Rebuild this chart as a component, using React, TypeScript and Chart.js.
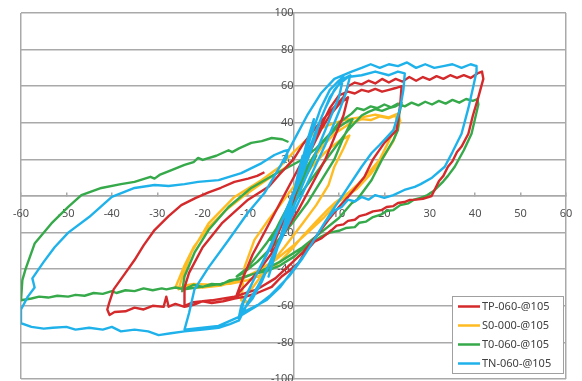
import React, { useEffect, useRef } from 'react';
import { Chart, registerables } from 'chart.js';

Chart.register(...registerables);

const seriesLabels = ['TP-060-@105', 'S0-000-@105', 'T0-060-@105', 'TN-060-@105'];
const seriesColors = ['#d42a2c', '#ffbb22', '#36a94a', '#1fb2ea'];
const seriesOrder = [1, 3, 2, 0];

const xMin = -60, xMax = 60, xStep = 10;
const yMin = -100, yMax = 100, yStep = 20;

const tpPath: [number, number][] = [
  [0,0],[1.5,12],[3,22],[4.5,30],[3,20],[0,2],[-2,-12],[-4,-24],[-5,-30],[-3,-18],[0,-2],
  [2,14],[4,26],[6,36],[8,44],[10,50],[12,54],[11,44],[9,32],[7,20],[4,6],[1,-8],[-2,-20],[-5,-32],[-8,-42],[-11,-50],[-12.5,-54],
  [-11,-44],[-9,-32],[-6,-18],[-3,-4],[0,10],[3,24],[6,38],[8,48],[10,55],[12,57],[13.5,56],[15,58],[16.5,57],[18,58.5],[19.5,57],[21,58],[22.5,59],[23.8,60],
  [23.5,50],[22.7,36],[20,29],[17.5,20],[15.6,10.4],[12,-0.5],[10,-6],[7.7,-13],[5,-22],[2,-31],[-1,-38],[-4,-45],[-8,-51],[-13,-55],[-18,-57],[-22,-58],[-24,-60],
  [-24,-50],[-23,-42],[-20,-28],[-15.8,-15],[-10,-2],[-5.5,5],[-3,12],[0,20],[2,28],[5,37.7],[8,46],[11,54],[12,60],[13.5,62],[15,61],[16.5,63],[18,61.5],[19.5,64],[21,62],[22.5,64],[24,62.5],[25.5,65],[27,63],[28.5,65],[30,63.5],[31.5,65.5],[33,64],[34.5,66],[36,64.5],[37.5,66],[39,64.5],[40.5,67],[41.5,68],
  [41.8,64],[40.7,54],[39.5,44],[38.5,34],[37,27],[36,24],[35,19],[34,16],[33,11],[32,8],[31,3],[30.4,0],[28.5,-1.5],[27,-2],[25.5,-2.2],[24.4,-3.3],[23,-3.8],[22,-5.5],[20.5,-6],[19.4,-7.7],[17.5,-8.4],[16,-10],[14.5,-11],[13.5,-13],[12,-13.6],[11,-15.5],[9.5,-16.2],[8.4,-18.6],[6.2,-23],[4.6,-25],[2.5,-31],[1.1,-36.6],[-1,-41],[-2.6,-44],[-4.8,-49.7],[-8,-53],[-10.5,-55],[-13,-56],[-15.5,-57.5],[-18,-58.5],[-20,-57.5],[-22,-59.5],[-24,-60.6],[-26,-59],[-27.5,-60.5],[-28,-55],[-28.6,-60.6],[-31,-60],[-33,-62],[-35,-61],[-37,-63],[-39.4,-63.4],[-40.5,-65],[-41,-62],[-40.6,-58.5],[-40,-54],
  [-39.6,-51],[-37,-42],[-35,-35],[-33,-27],[-30.6,-18.6],[-27.5,-11],[-24.7,-5],[-21.5,-1],[-18.7,2],[-16,4.5],[-13,7.7],[-10,9.5],[-8,11],[-6.4,13]
];

const s0Path: [number, number][] = [
  [0,0],[2,10],[4,20],[5,24],[3,14],[0,0],[-2,-12],[-4,-22],[-5,-28],[-3,-18],[0,-2],[2,8],
  [4,16],[7,24],[10,30],[12.3,33],[11,26],[9,16],[7.7,6],[5,-5],[2,-15],[-2,-28],[-6,-40],[-9,-50],[-11,-56],[-10,-58.5],[-11.5,-57],
  [-10.8,-39],[-8.6,-24],[-5.5,-13],[-3,-5],[0,5],[3,16],[6,26],[9,34],[12,39],[15,42],[17,41.5],[19,43.5],[21,42.5],[22.5,44],[22.8,40],
  [21,30],[19,20],[17,14],[14,6],[12,1.6],[9,-4],[7.7,-7],[5,-14],[2,-22],[0,-28],[-3,-36],[-6,-42],[-10,-46],[-14,-48],[-18,-48.5],[-22,-48],[-24,-49],[-25.3,-51],
  [-24.7,-46],[-22.5,-31],[-18.7,-15],[-13,-0.5],[-7,8.7],[-3,16],[0,24],[3,31],[6,37],[9,40],[12,42],[15,43],[18,44.5],[21,43],[23,45],[23.5,41],
  [22,30],[20,22],[17,12],[14,4],[10,-3],[6.8,-11.5],[4,-18],[0,-27],[-4,-35],[-8,-41],[-12,-46],[-16,-49],[-20,-50],[-24,-50],[-26,-50],[-25.5,-47],
  [-24,-38],[-22,-28],[-19,-18],[-15,-8],[-11,0],[-7,7],[-4,12],[-1.5,16],[-0.5,19]
];

const t0Path: [number, number][] = [
  [0,0],[2,10],[4,19],[5,22],[3,12],[0,-2],[-3,-16],[-5,-24],[-3,-14],[0,0],
  [3,16],[6,28],[9,36],[12,41],[13,42],[11,32],[9,20],[6,8],[3,-4],[0,-14],[-4,-26],[-8,-36],[-11,-42],[-12.5,-44],
  [-10,-39],[-6,-26],[-3,-15],[0,-4],[3,6],[6,16],[9,26],[12,36],[15,44],[16.5,46],[18,47.5],[19.5,46.5],[21,48],[22.5,49],[23.8,51],
  [23.3,45],[23,36],[22,30.6],[19.5,20],[17.2,8.7],[14,-2],[12.8,-4],[10,-12],[6,-20],[2,-28],[-3,-36],[-8,-42],[-12,-45],[-16,-48],[-20,-49.5],[-24,-51],[-24.5,-52],
  [-24,-44],[-21.8,-31],[-18.7,-18.6],[-14.3,-6],[-9.3,4.4],[-4,12],[1.8,19.7],[5,26],[8,34],[10,40],[12.8,45],[14,48],[15.5,47],[17,49],[18.5,48],[20,50],[21.5,48.5],[23,50.5],[24.5,49],[26,51],[27.5,49.5],[29,51.5],[30.5,50],[32,52],[33.5,50.5],[35,52.5],[36.5,51],[38,53],[39.5,52],[40.5,53],
  [40.7,50],[39.2,34],[37.5,25],[35.5,16],[34,11],[33,8],[32,5.5],[31,3],[29.5,0.5],[28,-1],[26.5,-2],[25.3,-4],[23.5,-5],[22,-7.7],[20.5,-8.2],[19.4,-10],[17.5,-11.5],[16,-14],[14.5,-14.6],[13.5,-17],[11.5,-17.5],[10,-19],[8,-20],[6.2,-22],[3,-27],[0.2,-33],[-3,-38],[-6,-41],[-9.3,-43],[-12,-45.5],[-14,-46],[-16,-48.5],[-18,-48],[-20,-49.7],[-22,-48.5],[-24,-51],[-26,-50],[-28,-51],[-29,-50.5],[-31,-51.5],[-33,-50.5],[-35,-52],[-37,-51.5],[-39,-53],[-40,-52],[-42,-53.5],[-44,-53],[-46,-54.5],[-48,-54],[-49.6,-55],[-52,-54.5],[-54,-55.5],[-56,-55],[-57.7,-56],[-60,-57],
  [-59.7,-46],[-59,-40],[-57,-26],[-53.3,-15],[-49.6,-6],[-46.7,0.5],[-42.3,4.4],[-38,6.5],[-35,7.7],[-31.5,10.5],[-30.6,9.5],[-29.5,11.5],[-27,14],[-24,17],[-22,18.5],[-21,20.8],[-20,19.7],[-17,22],[-14.3,25],[-13.5,24],[-12,26],[-9.3,29],[-7,30],[-4.8,31.7],[-2.5,31],[-1.1,29.5]
];

const tnPath: [number, number][] = [
  [0,0],[1,12],[2,22],[1,12],[0,1],[-1,-10],[-2,-20],[-1,-9],[0,1],
  [1.5,15],[3,30],[4.5,42],[3.5,32],[1.5,14],[0,0],[-2,-16],[-4,-32],[-5.5,-44],[-4,-32],[-2,-15],[0,2],
  [2,18],[4,34],[6,48],[8,58],[10,63],[11,65],[10,54],[8,42],[5,24],[2,6],[0,-6],[-2,-18],[-5,-35],[-7,-47],[-9,-56],[-11,-62],[-12,-66],
  [-11.5,-60],[-10,-52],[-8,-42],[-5,-28],[-3,-16],[-1,-4],[1,8],[3,22],[5,36],[7,48],[9,58],[11,64],[12.5,66],
  [11.5,56],[10,46],[7,28],[4,12],[1,-4],[-2,-20],[-5,-36],[-8,-50],[-10,-58],[-12,-68],
  [-11,-58],[-9,-47],[-6,-32],[-3,-16],[0,0],[2,12],[4,26],[6,42],[8,54],[10,61],[12,65],[15,66],[18,68],[21,66],[23,68],[24.5,67],
  [24.2,58],[23.5,48],[22,36],[19,28],[17.2,23.5],[15,16],[13.5,10.4],[10.6,-0.5],[8,-10],[5,-22],[2,-34],[-1,-44],[-5,-54],[-8,-60],[-12,-66],[-16.5,-71],[-20,-72],[-24,-73],
  [-23,-64],[-21.8,-51],[-18.7,-39],[-14.3,-24],[-10,-9],[-6.4,1.6],[-3,16],[0,30],[3,44],[6,56],[9,64],[12.8,68],[15,70],[17,72],[19,70],[21,72],[23,71],[25,73],[27,70],[29,72],[31,70],[33,71],[35,72],[37,70],[39,72],[40.3,71],
  [40.3,68],[39.6,60],[38.5,48],[37,34],[35,24],[33.3,16],[30.5,10],[28,6.5],[26.7,5],[24.4,3.3],[22,0.5],[20,-1],[18,0.5],[16.5,-2],[15,-0.5],[13.5,-3],[12,-2],[10.6,-6],[9,-8],[7,-14],[5,-22],[2.5,-32],[0,-40],[-3,-50],[-6,-57],[-9,-61],[-11.5,-64],[-12,-68],[-14,-70],[-16.5,-72],[-20,-73],[-24,-74],[-27,-75],[-29.7,-76],[-32,-74],[-35,-73],[-38,-74],[-40,-71.5],[-42,-73],[-45,-72],[-48,-73],[-50,-71.5],[-53,-72],[-55,-72.5],[-57.7,-71.5],[-60,-69.5],
  [-60,-62],[-58.5,-55],[-57,-50],[-57.5,-45],[-55,-36],[-52.6,-28],[-49.6,-20],[-45,-11.5],[-40,-0.5],[-35,4.4],[-30.6,6],[-27.5,5.5],[-24,6.5],[-21,7.7],[-16.5,8.7],[-11.5,12.5],[-7,18],[-4.2,22.4],[-2,24.6],[-1.3,25],[-1.5,21],[-2.2,18]
];

const seriesPaths = [tpPath, s0Path, t0Path, tnPath];

const GRID = '#a9a9a9';
const TEXT = '#505050';
const FONT_FAMILY = '"Noto Sans", "DejaVu Sans", sans-serif';

const boxLegend = {
  id: 'boxLegend',
  afterDraw(chart: any) {
    const ctx = chart.ctx as CanvasRenderingContext2D;
    const { right, bottom } = chart.chartArea;
    const w = 111, h = 77;
    const x0 = Math.round(right - 3 - w);
    const y0 = Math.round(bottom - 6 - h);
    ctx.save();
    ctx.fillStyle = '#ffffff';
    ctx.fillRect(x0, y0, w, h);
    ctx.strokeStyle = '#a0a0a0';
    ctx.lineWidth = 1;
    ctx.strokeRect(x0 + 0.5, y0 + 0.5, w, h);
    chart.data.datasets.forEach((ds: any, i: number) => {
      const y = y0 + 10.5 + i * 19;
      ctx.strokeStyle = ds.borderColor;
      ctx.lineWidth = 2.5;
      ctx.beginPath();
      ctx.moveTo(x0 + 6, y);
      ctx.lineTo(x0 + 28, y);
      ctx.stroke();
      ctx.fillStyle = '#404040';
      ctx.font = `11px ${FONT_FAMILY}`;
      ctx.textBaseline = 'middle';
      ctx.textAlign = 'left';
      ctx.fillText(ds.label, x0 + 30, y + 0.5);
    });
    ctx.restore();
  },
};

export default function App() {
  const canvasRef = useRef<HTMLCanvasElement | null>(null);

  useEffect(() => {
    const canvas = canvasRef.current;
    if (!canvas) return;
    const chart = new Chart(canvas, {
      type: 'scatter',
      data: {
        datasets: seriesLabels.map((label, i) => ({
          label,
          data: seriesPaths[i].map(([x, y]) => ({ x, y })),
          borderColor: seriesColors[i],
          backgroundColor: seriesColors[i],
          borderWidth: 2.4,
          showLine: true,
          pointRadius: 0,
          pointHoverRadius: 0,
          tension: 0,
          borderJoinStyle: 'round',
          order: seriesOrder[i],
        })),
      },
      options: {
        animation: false,
        responsive: false,
        maintainAspectRatio: false,
        events: [],
        layout: { padding: { left: 21, right: 16, top: 13, bottom: 2 } },
        plugins: { legend: { display: false }, tooltip: { enabled: false } },
        scales: {
          x: {
            type: 'linear',
            position: { y: 0 } as any,
            min: xMin,
            max: xMax,
            ticks: {
              stepSize: xStep,
              padding: 15,
              color: TEXT,
              font: { family: FONT_FAMILY, size: 11 },
              maxRotation: 0,
              autoSkip: false,
            },
            grid: {
              color: (ctx: any) =>
                ctx.tick && (ctx.tick.value === xMin || ctx.tick.value === xMax) ? GRID : 'rgba(0,0,0,0)',
              tickColor: GRID,
              tickLength: -4,
              lineWidth: 1.5,
            },
            border: { display: true, color: GRID, width: 1.5 },
            afterFit: (scale: any) => {
              scale.height = 0;
              scale.paddingLeft = 0;
              scale.paddingRight = 0;
            },
          },
          y: {
            type: 'linear',
            position: { x: 0 } as any,
            min: yMin,
            max: yMax,
            ticks: {
              stepSize: yStep,
              padding: 4,
              color: TEXT,
              font: { family: FONT_FAMILY, size: 11 },
              autoSkip: false,
            },
            grid: {
              color: GRID,
              tickColor: GRID,
              tickLength: 8,
              lineWidth: 1.5,
            },
            border: { display: true, color: GRID, width: 1.5 },
            afterFit: (scale: any) => {
              scale.width = 0;
              scale.paddingTop = 0;
              scale.paddingBottom = 0;
            },
          },
        },
      },
      plugins: [boxLegend],
    } as any);
    return () => chart.destroy();
  }, []);

  return (
    <div style={{ position: 'absolute', left: 0, top: 0, width: 582, height: 381, background: '#fff' }}>
      <canvas ref={canvasRef} width={582} height={381} style={{ display: 'block', width: 582, height: 381 }} />
    </div>
  );
}
